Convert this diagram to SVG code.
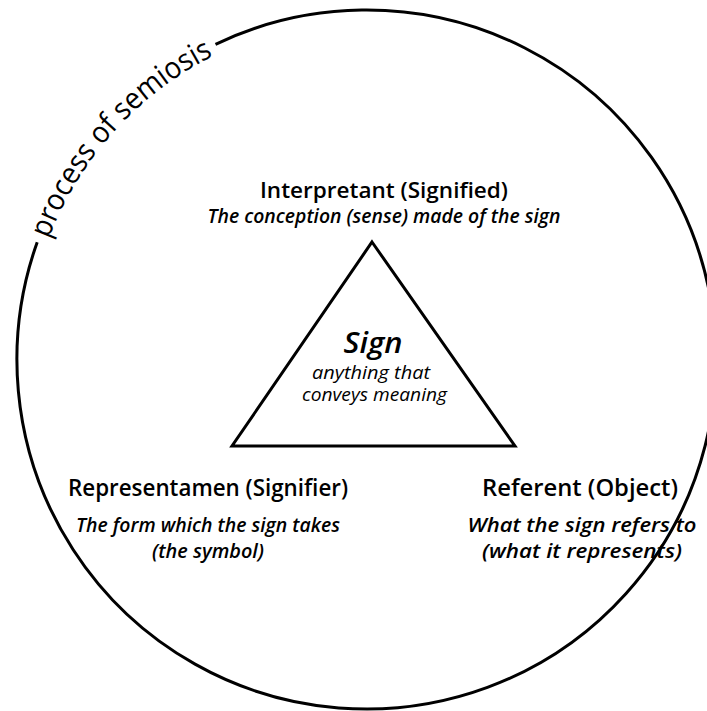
<svg xmlns="http://www.w3.org/2000/svg" xmlns:xlink="http://www.w3.org/1999/xlink" width="707" height="711" viewBox="0 0 707 711">
  <style>
    .line { fill: none; stroke: #000; stroke-width: 3; }
    .head { font-family: "Open Sans", "Liberation Sans", sans-serif; font-weight: 600; fill: #000; text-anchor: middle; }
    .sub { font-family: "Open Sans", "Liberation Sans", sans-serif; font-weight: 600; font-style: italic; fill: #000; text-anchor: middle; }
    .light { font-family: "Open Sans", "Liberation Sans", sans-serif; font-weight: 400; font-style: italic; fill: #000; text-anchor: middle; }
    .arc { font-family: "Open Sans", "Liberation Sans", sans-serif; font-weight: 400; fill: #000; text-anchor: middle; }
  </style>
  <defs>
    <path id="textArc" d="M 48.0 240.4 A 340 340 0 0 1 214.8 55.2"/>
  </defs>
  <rect width="707" height="711" fill="#fff"/>

  <g id="process">
    <path class="line" d="M 215.5 44.3 A 349.5 349.5 0 1 1 37.2 242.2"/>
    <text class="arc" font-size="30"><textPath xlink:href="#textArc" href="#textArc" startOffset="50%" textLength="252" lengthAdjust="spacingAndGlyphs">process of semiosis</textPath></text>
  </g>

  <g id="connectors">
    <path id="triangle" class="line" stroke-linejoin="miter" d="M 372 242 L 515 446 L 232 446 Z"/>
  </g>

  <g id="sign">
    <text class="sub" x="373" y="353" font-size="28" font-weight="700" textLength="59" lengthAdjust="spacingAndGlyphs">Sign</text>
    <text class="light" x="371" y="379" font-size="18" textLength="118" lengthAdjust="spacingAndGlyphs">anything that</text>
    <text class="light" x="374.5" y="401" font-size="18" textLength="145" lengthAdjust="spacingAndGlyphs">conveys meaning</text>
  </g>

  <g id="interpretant">
    <text class="head" x="384" y="198" font-size="22" textLength="248" lengthAdjust="spacingAndGlyphs">Interpretant (Signified)</text>
    <text class="sub" x="384" y="223" font-size="19" textLength="353" lengthAdjust="spacingAndGlyphs">The conception (sense) made of the sign</text>
  </g>

  <g id="representamen">
    <text class="head" x="208" y="496" font-size="23" textLength="280" lengthAdjust="spacingAndGlyphs">Representamen (Signifier)</text>
    <text class="sub" x="208" y="532" font-size="20" textLength="264" lengthAdjust="spacingAndGlyphs">The form which the sign takes</text>
    <text class="sub" x="208" y="558" font-size="20" textLength="112" lengthAdjust="spacingAndGlyphs">(the symbol)</text>
  </g>

  <g id="referent">
    <text class="head" x="580" y="496" font-size="23" textLength="196" lengthAdjust="spacingAndGlyphs">Referent (Object)</text>
    <text class="sub" x="582" y="532" font-size="20" textLength="229" lengthAdjust="spacingAndGlyphs">What the sign refers to</text>
    <text class="sub" x="582" y="558" font-size="20" textLength="200" lengthAdjust="spacingAndGlyphs">(what it represents)</text>
  </g>
</svg>
